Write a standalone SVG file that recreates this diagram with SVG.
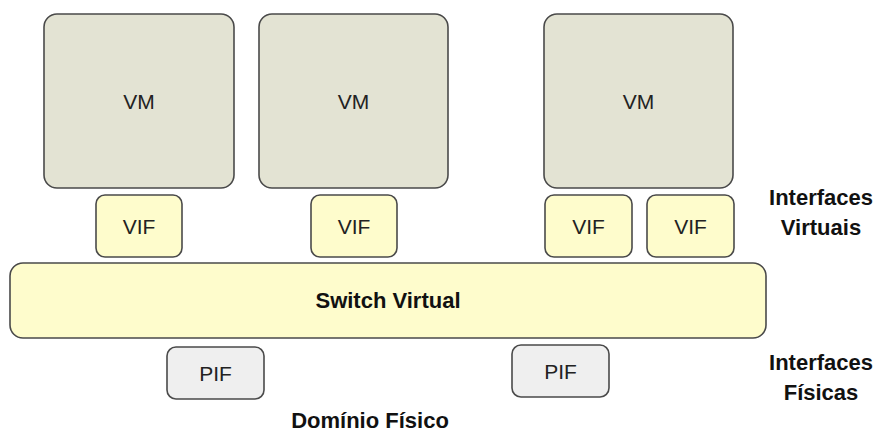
<svg xmlns="http://www.w3.org/2000/svg" width="880" height="434" viewBox="0 0 880 434">
  <style>
    .vm { fill: #e3e3d3; stroke: #4a4a4a; stroke-width: 1.6; }
    .vif { fill: #fefccc; stroke: #4a4a4a; stroke-width: 1.6; }
    .pif { fill: #efefef; stroke: #4a4a4a; stroke-width: 1.6; }
    .lbl { font-family: "Liberation Sans", Arial, sans-serif; font-size: 21px; fill: #222; text-anchor: middle; dominant-baseline: central; }
    .bold { font-family: "Liberation Sans", Arial, sans-serif; font-size: 22px; font-weight: bold; fill: #111; text-anchor: middle; }
  </style>

  <!-- virtual machines -->
  <g id="vm1">
    <rect class="vm" x="44" y="14" width="190" height="174" rx="13"/>
    <text class="lbl" x="139" y="101">VM</text>
  </g>
  <g id="vm2">
    <rect class="vm" x="259" y="14" width="189" height="174" rx="13"/>
    <text class="lbl" x="353.5" y="101">VM</text>
  </g>
  <g id="vm3">
    <rect class="vm" x="544" y="14" width="189" height="174" rx="13"/>
    <text class="lbl" x="638.5" y="101">VM</text>
  </g>

  <!-- virtual interfaces -->
  <g id="vif1">
    <rect class="vif" x="96" y="195" width="86" height="62" rx="9"/>
    <text class="lbl" x="139" y="226">VIF</text>
  </g>
  <g id="vif2">
    <rect class="vif" x="311" y="195" width="86" height="62" rx="9"/>
    <text class="lbl" x="354" y="226">VIF</text>
  </g>
  <g id="vif3">
    <rect class="vif" x="545" y="195" width="87" height="62" rx="9"/>
    <text class="lbl" x="588.5" y="226">VIF</text>
  </g>
  <g id="vif4">
    <rect class="vif" x="647" y="195" width="87" height="62" rx="9"/>
    <text class="lbl" x="690.5" y="226">VIF</text>
  </g>

  <!-- virtual switch -->
  <g id="switch">
    <rect class="vif" x="10" y="263" width="756" height="75" rx="13"/>
    <text class="bold" x="388" y="308">Switch Virtual</text>
  </g>

  <!-- physical interfaces -->
  <g id="pif1">
    <rect class="pif" x="167" y="347" width="97" height="52" rx="9"/>
    <text class="lbl" x="215.5" y="373">PIF</text>
  </g>
  <g id="pif2">
    <rect class="pif" x="512" y="345" width="97" height="52" rx="9"/>
    <text class="lbl" x="560.5" y="371">PIF</text>
  </g>

  <!-- layer captions -->
  <g id="caption-virtual">
    <text class="bold" x="821" y="205">Interfaces</text>
    <text class="bold" x="821" y="235">Virtuais</text>
  </g>
  <g id="caption-physical">
    <text class="bold" x="821" y="370">Interfaces</text>
    <text class="bold" x="821" y="400">Físicas</text>
  </g>
  <g id="caption-domain">
    <text class="bold" x="370" y="428">Domínio Físico</text>
  </g>
</svg>
